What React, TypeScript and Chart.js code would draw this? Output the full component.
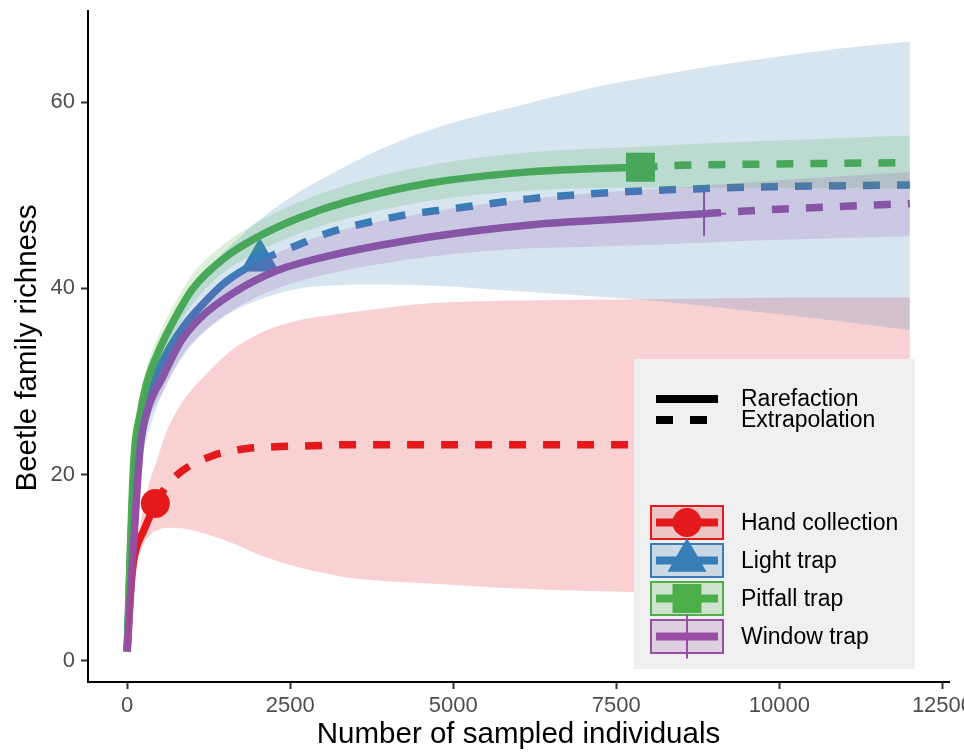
import React, { useEffect, useRef } from "react";
import { Chart, registerables } from "chart.js";

Chart.register(...registerables);

const FONT = '"Liberation Sans", Arial, Helvetica, sans-serif';

const xTicks = [0, 2500, 5000, 7500, 10000, 12500];
const yTicks = [0, 20, 40, 60];
const xTitle = "Number of sampled individuals";
const yTitle = "Beetle family richness";

const seriesNames = ["Hand collection", "Light trap", "Pitfall trap", "Window trap"];
const seriesColors = ["#E41A1C", "#377EB8", "#4DAF4A", "#984EA3"];
const seriesRgb = ["228,26,28", "55,126,184", "77,175,74", "152,78,163"];
const lineTypeLabels = ["Rarefaction", "Extrapolation"];

// observed (reference sample) points
const obsX = [433, 2034, 7870, 8845];
const obsY = [16.9, 43.0, 53.0, 48.0];

// Hand collection
const handRareX = [1, 50, 100, 150, 250, 433];
const handRareY = [1, 7.5, 10.8, 12.3, 13.9, 16.9];
const handExtX = [433, 600, 845, 1300, 1835, 2345, 2850, 3370, 4500, 6000, 8000, 10000, 12000];
const handExtY = [16.9, 18.7, 20.4, 22.0, 22.8, 23.0, 23.1, 23.2, 23.2, 23.2, 23.2, 23.2, 23.2];
const handBandX = [1, 50, 100, 157, 250, 353, 433, 610, 870, 1120, 1630, 1885, 2140, 2650, 3110, 3415, 4640, 6170, 7700, 9000, 10500, 12000];
const handLow = [1, 4.0, 7.0, 10.3, 12.5, 13.5, 13.9, 14.3, 14.2, 13.8, 12.6, 11.8, 11.1, 10.0, 9.3, 8.9, 8.3, 7.7, 7.4, 7.3, 7.2, 7.2];
const handUp = [1, 7.5, 10.8, 13.0, 16.5, 19.4, 21.0, 24.7, 28.0, 30.1, 33.5, 34.6, 35.5, 36.6, 37.1, 37.4, 38.4, 38.7, 38.8, 38.9, 39.0, 39.0];

// Light trap
const lightRareX = [1, 107, 214, 321, 428, 642, 856, 1070, 1498, 2034];
const lightRareY = [1, 20.5, 25.5, 28.5, 30.5, 33.5, 35.8, 37.6, 40.6, 43.0];
const lightExtX = [2034, 2600, 3110, 4130, 5150, 6170, 7240, 8810, 9860, 12000];
const lightExtY = [43.0, 44.6, 46.0, 47.7, 48.7, 49.6, 50.2, 50.7, 50.9, 51.1];
const lightBandX = [1, 25, 50, 100, 250, 500, 750, 1000, 1500, 2034, 2650, 3110, 3875, 4640, 6170, 7240, 8000, 9000, 10000, 11000, 12000];
const lightLow = [1, 9, 13, 17, 22.5, 28, 31.5, 34, 37, 38.8, 40.0, 40.3, 40.4, 40.3, 39.6, 39.1, 38.7, 38.0, 37.2, 36.4, 35.5];
const lightUp = [1, 14, 18.5, 23, 29, 34, 37.5, 40.3, 44, 47.4, 50.4, 52.2, 54.9, 57.0, 59.9, 61.7, 62.7, 63.9, 64.9, 65.8, 66.5];

// Pitfall trap
const pitRareX = [1, 100, 200, 300, 500, 750, 1000, 1500, 2000, 2650, 3370, 4640, 6170, 7000, 7870];
const pitRareY = [1, 21, 26.5, 29.8, 33.5, 37, 39.9, 43.3, 45.5, 47.6, 49.3, 51.3, 52.5, 52.8, 53.0];
const pitExtX = [7870, 8500, 10000, 12000];
const pitExtY = [53.0, 53.2, 53.35, 53.5];
const pitBandX = [1, 50, 100, 200, 300, 500, 750, 1000, 1500, 2000, 2650, 3370, 4640, 6170, 7870, 9000, 10500, 12000];
const pitLow = [1, 13.5, 19.5, 25, 28, 31.8, 35.5, 38.3, 41.8, 43.9, 45.9, 47.5, 49.4, 50.5, 50.8, 50.8, 50.8, 50.7];
const pitUp = [1, 16.5, 22.5, 28, 31.5, 35.2, 38.6, 41.5, 44.8, 47.1, 49.3, 51.1, 53.2, 54.6, 55.2, 55.6, 56.0, 56.4];

// Window trap
const winRareX = [1, 100, 200, 300, 555, 815, 1120, 1630, 2300, 3110, 4640, 6170, 7700, 8845];
const winRareY = [1, 12.5, 22.8, 26.6, 30.6, 34.2, 36.8, 39.5, 41.9, 43.5, 45.5, 46.8, 47.5, 48.0];
const winExtX = [8845, 9490, 9990, 11000, 12000];
const winExtY = [48.0, 48.3, 48.5, 48.8, 49.1];
const winBandX = [1, 100, 200, 300, 555, 815, 1120, 1630, 2300, 3110, 4640, 6170, 7250, 8845, 10000, 12000];
const winLow = [1, 11, 21, 25, 29, 32.5, 35, 37.7, 40, 41.6, 43.4, 44.3, 44.5, 44.9, 45.2, 45.6];
const winUp = [1, 14, 24.6, 28.2, 32.2, 35.9, 38.6, 41.3, 43.8, 45.9, 48.2, 49.6, 50.3, 51.0, 51.6, 52.5];

const pointStyles = ["circle", "triangle", "rect", "cross"];
const pointRadii = [14.5, 22.5, 20.5, 22];

const groups = [
  { rx: handRareX, ry: handRareY, ex: handExtX, ey: handExtY, bx: handBandX, lo: handLow, up: handUp },
  { rx: lightRareX, ry: lightRareY, ex: lightExtX, ey: lightExtY, bx: lightBandX, lo: lightLow, up: lightUp },
  { rx: pitRareX, ry: pitRareY, ex: pitExtX, ey: pitExtY, bx: pitBandX, lo: pitLow, up: pitUp },
  { rx: winRareX, ry: winRareY, ex: winExtX, ey: winExtY, bx: winBandX, lo: winLow, up: winUp },
];

const pts = (xs: number[], ys: number[]) => xs.map((x, i) => ({ x, y: ys[i] }));

function buildDatasets() {
  const ds: any[] = [];
  groups.forEach((g, k) => {
    const color = seriesColors[k];
    ds.push({
      label: seriesNames[k] + " rarefaction",
      data: pts(g.rx, g.ry),
      borderColor: color,
      borderWidth: 7.5,
      borderJoinStyle: "round",
      pointRadius: 0,
      fill: false,
      cubicInterpolationMode: "monotone",
      order: 20 - k,
    });
    ds.push({
      label: seriesNames[k] + " extrapolation",
      data: pts(g.ex, g.ey),
      borderColor: color,
      borderWidth: 7.5,
      borderDash: [17, 17],
      borderJoinStyle: "round",
      pointRadius: 0,
      fill: false,
      cubicInterpolationMode: "monotone",
      order: 20 - k,
    });
    ds.push({
      label: seriesNames[k] + " observed",
      data: [{ x: obsX[k], y: obsY[k] }],
      showLine: false,
      pointStyle: pointStyles[k],
      pointRadius: pointRadii[k],
      pointBackgroundColor: color,
      pointBorderColor: color,
      pointBorderWidth: pointStyles[k] === "cross" ? 2 : 0,
      fill: false,
      order: 30,
    });
    ds.push({
      label: seriesNames[k] + " lower",
      data: pts(g.bx, g.lo),
      borderColor: "rgba(0,0,0,0)",
      borderWidth: 0,
      pointRadius: 0,
      fill: false,
      cubicInterpolationMode: "monotone",
      order: 0,
    });
    ds.push({
      label: seriesNames[k] + " upper",
      data: pts(g.bx, g.up),
      borderColor: "rgba(0,0,0,0)",
      borderWidth: 0,
      pointRadius: 0,
      backgroundColor: `rgba(${seriesRgb[k]},0.2)`,
      fill: "-1",
      cubicInterpolationMode: "monotone",
      order: 4 - k,
    });
  });
  return ds;
}

function drawShape(ctx: CanvasRenderingContext2D, style: string, x: number, y: number, r: number, color: string) {
  ctx.save();
  ctx.fillStyle = color;
  ctx.strokeStyle = color;
  ctx.beginPath();
  if (style === "circle") {
    ctx.arc(x, y, r, 0, Math.PI * 2);
    ctx.fill();
  } else if (style === "triangle") {
    const w = r * Math.sin((2 * Math.PI) / 3);
    ctx.moveTo(x, y - r);
    ctx.lineTo(x + w, y + r / 2);
    ctx.lineTo(x - w, y + r / 2);
    ctx.closePath();
    ctx.fill();
  } else if (style === "rect") {
    const s = Math.SQRT1_2 * r;
    ctx.rect(x - s, y - s, 2 * s, 2 * s);
    ctx.fill();
  } else {
    ctx.lineWidth = 2;
    ctx.moveTo(x, y - r);
    ctx.lineTo(x, y + r);
    ctx.moveTo(x - r, y);
    ctx.lineTo(x + r, y);
    ctx.stroke();
  }
  ctx.restore();
}

const decor = {
  id: "decor",
  afterDraw(chart: any) {
    const ctx: CanvasRenderingContext2D = chart.ctx;
    const area = chart.chartArea;
    ctx.save();
    // axis titles
    ctx.fillStyle = "#000000";
    ctx.font = `29.5px ${FONT}`;
    ctx.textAlign = "center";
    ctx.textBaseline = "alphabetic";
    ctx.fillText(xTitle, (area.left + area.right) / 2, 743);
    ctx.save();
    ctx.translate(36, 348);
    ctx.rotate(-Math.PI / 2);
    ctx.fillText(yTitle, 0, 0);
    ctx.restore();

    // legend box
    ctx.fillStyle = "#F0F0F0";
    ctx.fillRect(634, 359, 281, 310);

    // linetype legend
    ctx.strokeStyle = "#000000";
    ctx.lineWidth = 8;
    ctx.lineCap = "butt";
    ctx.beginPath();
    ctx.moveTo(656, 399);
    ctx.lineTo(718, 399);
    ctx.stroke();
    ctx.setLineDash([17, 17]);
    ctx.beginPath();
    ctx.moveTo(656, 420);
    ctx.lineTo(718, 420);
    ctx.stroke();
    ctx.setLineDash([]);

    ctx.font = `23px ${FONT}`;
    ctx.textAlign = "left";
    ctx.textBaseline = "middle";
    ctx.fillStyle = "#000000";
    ctx.fillText(lineTypeLabels[0], 741, 400);
    ctx.fillText(lineTypeLabels[1], 741, 421);

    // colour legend
    const tops = [505, 543, 581, 619];
    seriesNames.forEach((name, k) => {
      const top = tops[k];
      const cy = top + 17.5;
      const color = seriesColors[k];
      ctx.strokeStyle = color;
      ctx.lineWidth = 8;
      ctx.beginPath();
      ctx.moveTo(656, cy);
      ctx.lineTo(718, cy);
      ctx.stroke();
      drawShape(ctx, pointStyles[k], 687, cy, pointRadii[k], color);
      ctx.fillStyle = `rgba(${seriesRgb[k]},0.2)`;
      ctx.fillRect(650, top, 74, 35);
      ctx.strokeStyle = color;
      ctx.lineWidth = 2;
      ctx.strokeRect(651, top + 1, 72, 33);
      ctx.fillStyle = "#000000";
      ctx.fillText(name, 741, cy + 1);
    });
    ctx.restore();
  },
};

export default function App() {
  const ref = useRef<HTMLCanvasElement>(null);
  useEffect(() => {
    const canvas = ref.current;
    if (!canvas) return;
    const chart = new Chart(canvas, {
      type: "line",
      data: { datasets: buildDatasets() },
      options: {
        animation: false,
        responsive: false,
        devicePixelRatio: 1,
        events: [],
        layout: { autoPadding: false, padding: { top: 11, right: 15, bottom: 0, left: 0 } },
        plugins: {
          legend: { display: false },
          tooltip: { enabled: false },
          filler: { propagate: false },
        },
        scales: {
          x: {
            type: "linear",
            min: -599,
            max: 12600,
            afterBuildTicks: (s: any) => {
              s.ticks = xTicks.map((v) => ({ value: v }));
            },
            afterFit: (s: any) => {
              s.height = 71;
              s.paddingLeft = 0;
              s.paddingRight = 0;
            },
            ticks: {
              color: "#4D4D4D",
              font: { family: FONT, size: 22 },
              padding: 4,
              maxRotation: 0,
              autoSkip: false,
              callback: (v: any) => String(v),
            },
            grid: {
              display: true,
              drawOnChartArea: false,
              drawTicks: true,
              tickLength: 7,
              tickWidth: 2,
              tickColor: "#333333",
            },
            border: { display: true, color: "#000000", width: 2 },
          },
          y: {
            type: "linear",
            min: -2.275,
            max: 69.775,
            afterBuildTicks: (s: any) => {
              s.ticks = yTicks.map((v) => ({ value: v }));
            },
            afterFit: (s: any) => {
              s.width = 88;
              s.paddingTop = 0;
              s.paddingBottom = 0;
            },
            ticks: {
              color: "#4D4D4D",
              font: { family: FONT, size: 22 },
              padding: 6,
              autoSkip: false,
              callback: (v: any) => String(v),
            },
            grid: {
              display: true,
              drawOnChartArea: false,
              drawTicks: true,
              tickLength: 7,
              tickWidth: 2,
              tickColor: "#333333",
            },
            border: { display: true, color: "#000000", width: 2 },
          },
        },
      } as any,
      plugins: [decor],
    });
    return () => chart.destroy();
  }, []);
  return (
    <div style={{ position: "absolute", left: 0, top: 0, width: 964, height: 753, background: "#ffffff" }}>
      <canvas ref={ref} width={964} height={753} style={{ display: "block", width: 964, height: 753 }} />
    </div>
  );
}
